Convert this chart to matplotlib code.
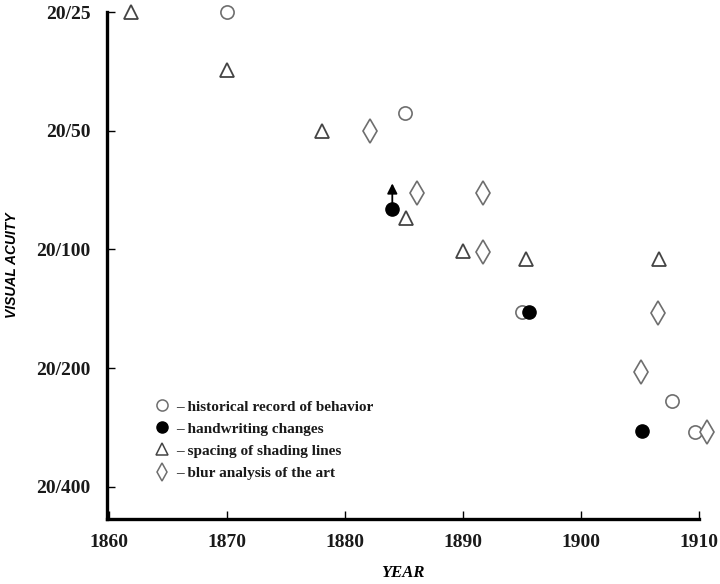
import numpy as np
import matplotlib
matplotlib.use("Agg")
from matplotlib import pyplot as plt
from matplotlib.lines import Line2D
from matplotlib.ticker import FixedLocator, FixedFormatter, NullLocator

# data: year, acuity denominator (20/x)
behav_year = [1870, 1885.1, 1895.0, 1907.7, 1909.7]
behav_acuity = [25, 45, 144, 242, 290]

hand_year = [1884.0, 1895.6, 1905.2]
hand_acuity = [79, 144, 289]
arrow_tip = 68  # arrow from first handwriting point

shade_year = [1861.8, 1870, 1878, 1885.2, 1890, 1895.3, 1906.6]
shade_acuity = [25, 35, 50, 83, 101, 106, 106]

blur_year = [1882.1, 1886.1, 1891.7, 1891.7, 1906.5, 1905.1, 1910.7]
blur_acuity = [50, 72, 72, 101.5, 145, 205, 290]

ytick_vals = [25, 50, 100, 200, 400]
ytick_labels = ["20/25", "20/50", "20/100", "20/200", "20/400"]
xtick_vals = [1860, 1870, 1880, 1890, 1900, 1910]

labels = ["– historical record of behavior", "– handwriting changes",
          "– spacing of shading lines", "– blur analysis of the art"]

gray = "#6e6e6e"
serif = "Liberation Serif"

fig = plt.figure(figsize=(7.2, 5.84), dpi=100)
ax = fig.add_axes([0.1486, 0.1113, 0.822, 0.868])

ms = 9.5
ax.plot(behav_year, behav_acuity, "o", ms=ms, mfc="white", mec=gray, mew=1.2, ls="none", clip_on=False)
ax.plot(hand_year, hand_acuity, "o", ms=ms, mfc="black", mec="black", ls="none", clip_on=False)
ax.plot(shade_year, shade_acuity, "^", ms=ms + 1, mfc="white", mec="#444444", mew=1.3, ls="none", clip_on=False)
ax.plot(blur_year, blur_acuity, "d", ms=ms + 3, mfc="white", mec=gray, mew=1.2, ls="none", clip_on=False)

ax.annotate("", xy=(hand_year[0], arrow_tip), xytext=(hand_year[0], hand_acuity[0]),
            arrowprops=dict(arrowstyle="-|>", color="black", lw=1.3, mutation_scale=15,
                            shrinkA=0, shrinkB=0))

ax.set_yscale("log", base=2)
ax.set_ylim(483, 25)
ax.set_xlim(1859.8, 1910)

ax.yaxis.set_major_locator(FixedLocator(ytick_vals))
ax.yaxis.set_major_formatter(FixedFormatter(ytick_labels))
ax.yaxis.set_minor_locator(NullLocator())
ax.set_xticks(xtick_vals)

for side in ["top", "right"]:
    ax.spines[side].set_visible(False)
for side in ["left", "bottom"]:
    ax.spines[side].set_linewidth(2.4)

ax.tick_params(axis="both", direction="in", length=6, width=1)
ax.tick_params(axis="y", pad=12)
ax.tick_params(axis="x", pad=11)
for lab in ax.get_xticklabels() + ax.get_yticklabels():
    lab.set_fontfamily(serif)
    lab.set_fontweight("bold")
    lab.set_fontsize(14)
    lab.set_color("#1a1a1a")

ax.set_xlabel("YEAR", fontfamily=serif, fontweight="bold", fontstyle="italic", fontsize=12, labelpad=10)
ax.set_ylabel("VISUAL ACUITY", fontfamily="Liberation Sans", fontweight="bold", fontstyle="italic",
              fontsize=10, labelpad=12)

handles = [
    Line2D([], [], marker="o", ls="none", ms=8, mfc="white", mec=gray, mew=1.1),
    Line2D([], [], marker="o", ls="none", ms=8, mfc="black", mec="black"),
    Line2D([], [], marker="^", ls="none", ms=8, mfc="white", mec="#444444", mew=1.1),
    Line2D([], [], marker="d", ls="none", ms=9, mfc="white", mec=gray, mew=1.1),
]
leg = ax.legend(handles, labels, loc="upper left", bbox_to_anchor=(0.067, 0.25), frameon=False,
                handlelength=1.0, handletextpad=0.45, labelspacing=0.55, borderpad=0,
                prop=dict(family=serif, weight="bold", size=11))
for t in leg.get_texts():
    t.set_color("#1a1a1a")

fig.savefig("out.png", dpi=100)
